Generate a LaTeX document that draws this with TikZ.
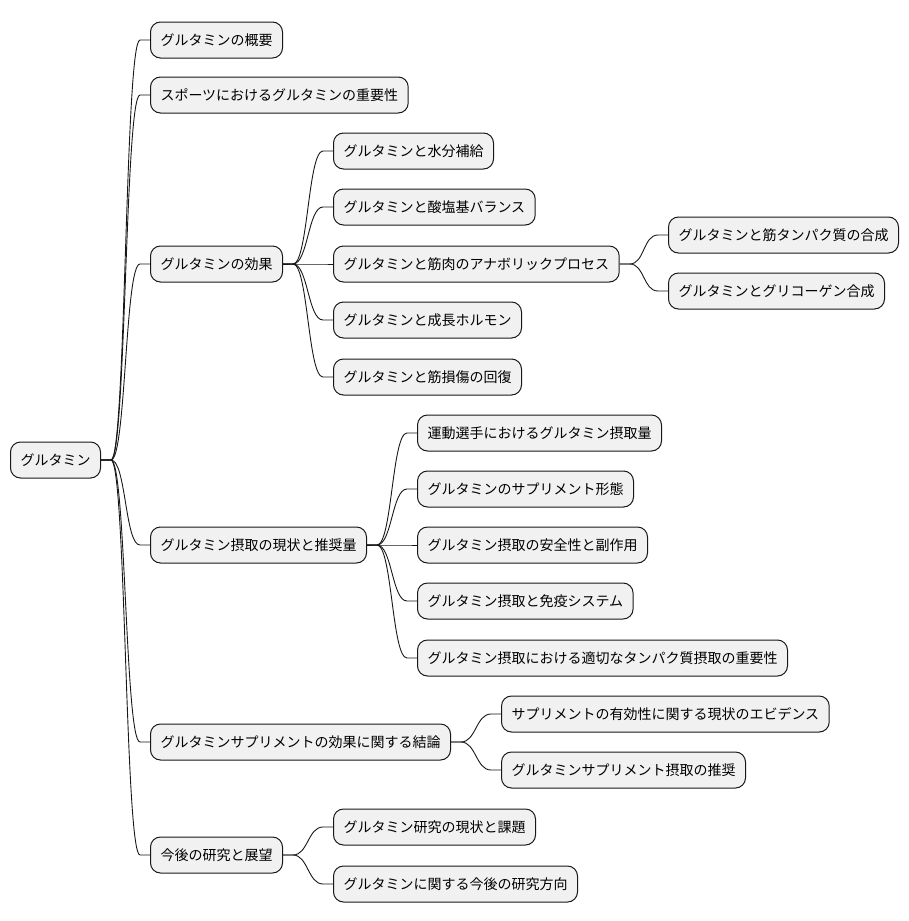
\documentclass[tikz,border=0pt]{standalone}
\usepackage{fontspec}
\newfontfamily\cjk{Noto Sans CJK JP}
\usetikzlibrary{calc}
\definecolor{boxfill}{HTML}{F1F1F1}
\definecolor{boxline}{HTML}{181818}
\tikzset{
  mm/.style={draw=boxline, fill=boxfill, line width=1pt, rounded corners=10pt,
    minimum height=36pt, inner xsep=10pt, inner ysep=0pt, anchor=west,
    font=\cjk\fontsize{14pt}{16pt}\selectfont},
  edge/.style={draw=boxline, line width=0.9pt}
}
\newcommand\conn[2]{%
  \draw[edge] (#1.east) -- ($(#1.east)+(10,0)$)
    .. controls ($(#1.east)+(25,0)$) and ($(#2.west)+(-25,0)$) ..
    ($(#2.west)+(-10,0)$) -- (#2.west);}
\begin{document}
\begin{tikzpicture}[x=1pt,y=-1pt]
\useasboundingbox (0,0) rectangle (909,921);
\node[mm] (root) at (10,460) {グルタミン};
\node[mm] (a1) at (150,40) {グルタミンの概要};
\node[mm] (a2) at (150,95) {スポーツにおけるグルタミンの重要性};
\node[mm] (a3) at (150,264) {グルタミンの効果};
\node[mm] (a4) at (150,545) {グルタミン摂取の現状と推奨量};
\node[mm] (a5) at (150,742) {グルタミンサプリメントの効果に関する結論};
\node[mm] (a6) at (150,855) {今後の研究と展望};
\node[mm] (b1) at (333,151) {グルタミンと水分補給};
\node[mm] (b2) at (333,207) {グルタミンと酸塩基バランス};
\node[mm] (b3) at (333,264) {グルタミンと筋肉のアナボリックプロセス};
\node[mm] (b4) at (333,320) {グルタミンと成長ホルモン};
\node[mm] (b5) at (333,377) {グルタミンと筋損傷の回復};
\node[mm] (c1) at (668,235) {グルタミンと筋タンパク質の合成};
\node[mm] (c2) at (668,291) {グルタミンとグリコーゲン合成};
\node[mm] (d1) at (417,433) {運動選手におけるグルタミン摂取量};
\node[mm] (d2) at (417,489) {グルタミンのサプリメント形態};
\node[mm] (d3) at (417,545) {グルタミン摂取の安全性と副作用};
\node[mm] (d4) at (417,601) {グルタミン摂取と免疫システム};
\node[mm] (d5) at (417,658) {グルタミン摂取における適切なタンパク質摂取の重要性};
\node[mm] (e1) at (501,714) {サプリメントの有効性に関する現状のエビデンス};
\node[mm] (e2) at (501,770) {グルタミンサプリメント摂取の推奨};
\node[mm] (f1) at (333,827) {グルタミン研究の現状と課題};
\node[mm] (f2) at (333,884) {グルタミンに関する今後の研究方向};
\foreach \c in {a1,a2,a3,a4,a5,a6} {\conn{root}{\c}}
\foreach \c in {b1,b2,b3,b4,b5} {\conn{a3}{\c}}
\foreach \c in {c1,c2} {\conn{b3}{\c}}
\foreach \c in {d1,d2,d3,d4,d5} {\conn{a4}{\c}}
\foreach \c in {e1,e2} {\conn{a5}{\c}}
\foreach \c in {f1,f2} {\conn{a6}{\c}}
\end{tikzpicture}
\end{document}
